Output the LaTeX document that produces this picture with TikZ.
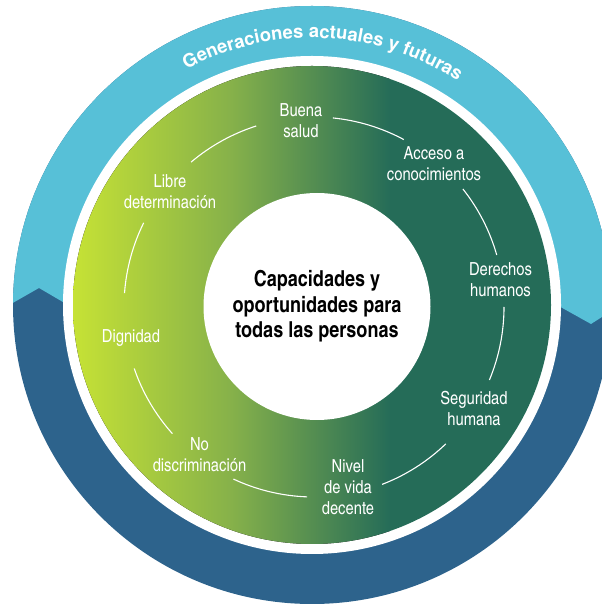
\documentclass[tikz,border=0pt]{standalone}
\usepackage{fontspec}
\setmainfont{texgyreheros}[Extension=.otf, UprightFont=*-regular, BoldFont=*-bold]
\newfontfamily\cnfont{texgyreheroscn}[Extension=.otf, UprightFont=*-regular, BoldFont=*-bold]
\usepackage{tikz}
\usetikzlibrary{decorations.text}
\definecolor{ringlight}{HTML}{57C0D7}
\definecolor{ringdark}{HTML}{2D638C}
\definecolor{leafstart}{HTML}{C6E235}
\definecolor{leafmid}{HTML}{86B14A}
\definecolor{leafend}{HTML}{256C58}
\tikzset{%
  principle/.style={text=white, align=center, inner sep=0pt, font=\cnfont\fontsize{18}{21}\selectfont},
  core/.style={circle, fill=white, align=center, inner sep=0pt, minimum size=227pt, font=\cnfont\bfseries\fontsize{22}{25.5}\selectfont},
  link/.style={draw=white, line width=1.1pt}}

\begin{document}
\begin{tikzpicture}[x=1pt, y=1pt]
    \useasboundingbox (0, 0) rectangle (602, 605);
    \clip (0, 0) rectangle (602, 605);
    \coordinate (hub) at (312, 300);
    \coordinate (rim) at (314, 298);

    % outer band: dark below, light above the zigzag
    \fill [ringdark] (hub) circle (299pt);
    \begin{scope}
      \clip (hub) circle (299pt);
      \fill [ringlight] (-10, 289) -- (39, 317) -- (80, 293) -- (530, 315) -- (591, 281) -- (620, 299.5) -- (620, 620) -- (-10, 620) -- cycle;
    \end{scope}
    \fill [white] (hub) circle (249pt);

    % green disk
    \begin{scope}
      \clip (hub) circle (239pt);
      \fill [left color=leafstart, right color=leafend, middle color=leafmid] (73, 55) rectangle (390, 545);
      \fill [leafend] (390, 55) rectangle (555, 545);
    \end{scope}

    \node [core] (core) at (317, 298.5) {Capacidades y\\oportunidades para\\todas las personas};

    \path [decorate, decoration={text along path, text color=white, text align=center,
      text={|\bfseries\fontsize{18.5}{20}\selectfont|Generaciones actuales y futuras}}]
      ([shift={(119:267pt)}]hub) arc [start angle=119, end angle=56, radius=267pt];

    \node [principle] (salud) at (301, 484.5) {Buena\\salud};
    \node [principle] (acceso) at (434, 441) {Acceso a\\conocimientos};
    \node [principle] (derechos) at (500.5, 325) {Derechos\\humanos};
    \node [principle] (seguridad) at (474, 196.5) {Seguridad\\humana};
    \node [principle] (nivel) at (348, 118) {Nivel\\de vida\\decente};
    \node [principle] (nodisc) at (199.5, 150.5) {No\\discriminación};
    \node [principle] (dignidad) at (131, 267) {Dignidad};
    \node [principle] (libre) at (170, 413.5) {Libre\\determinación};

    % arcs between neighbouring principles
    \foreach \from/\to in {84.3/61.8, 38.4/15.9, 0/-22.6, -46.1/-69, -92.1/-115.1, -138.2/-161.1, 175.8/153.7, 130.3/107.7}
      \draw [link] ([shift={(\from:190pt)}]rim) arc [start angle=\from, end angle=\to, radius=190pt];
\end{tikzpicture}
\end{document}
